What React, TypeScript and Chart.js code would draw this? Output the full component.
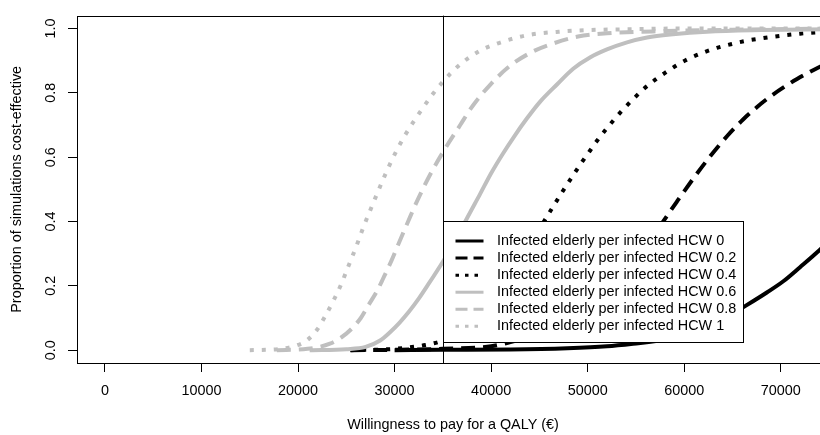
import React, { useEffect, useRef } from "react";
import { Chart, registerables } from "chart.js";

Chart.register(...registerables);

// ---- data ----
const xTicks = [0, 10000, 20000, 30000, 40000, 50000, 60000, 70000];
const yTicks = [0, 0.2, 0.4, 0.6, 0.8, 1.0];
const xTitle = "Willingness to pay for a QALY (€)";
const yTitle = "Proportion of simulations cost-effective";
const seriesLabels = [
  "Infected elderly per infected HCW 0",
  "Infected elderly per infected HCW 0.2",
  "Infected elderly per infected HCW 0.4",
  "Infected elderly per infected HCW 0.6",
  "Infected elderly per infected HCW 0.8",
  "Infected elderly per infected HCW 1",
];
const thresholdWtp = 35000;
const legendAnchorX = 35000;
const legendAnchorY = 0.4;

const wtpHcw0 = [30000, 35000, 42000, 47900, 52000, 54700, 58200, 60000, 62000, 64000, 66100, 68600, 70300, 72000, 73800, 75000];
const probHcw0 = [0, 0.001, 0.002, 0.006, 0.012, 0.02, 0.033, 0.045, 0.065, 0.095, 0.133, 0.18, 0.215, 0.258, 0.305, 0.34];

const wtpHcw02 = [25500, 30000, 35000, 40000, 42000, 45000, 48000, 51000, 54000, 56000, 57700, 59250, 60910, 62360, 64430, 66100, 67550, 68890, 70650, 71690, 73030, 73860, 75000];
const probHcw02 = [0, 0.001, 0.004, 0.012, 0.025, 0.05, 0.095, 0.16, 0.255, 0.325, 0.395, 0.462, 0.532, 0.59, 0.665, 0.717, 0.756, 0.788, 0.824, 0.843, 0.865, 0.878, 0.895];

const wtpHcw04 = [25400, 30000, 33000, 35000, 38000, 40000, 42000, 43800, 45380, 46500, 47650, 48700, 49420, 50240, 51070, 52000, 52830, 53660, 54700, 55730, 56970, 58010, 59250, 60390, 61950, 63400, 64950, 66610, 68160, 70130, 72000, 73760, 75000];
const probHcw04 = [0, 0.004, 0.015, 0.03, 0.08, 0.14, 0.215, 0.31, 0.395, 0.45, 0.505, 0.553, 0.585, 0.62, 0.655, 0.69, 0.72, 0.748, 0.78, 0.81, 0.84, 0.862, 0.886, 0.905, 0.925, 0.94, 0.952, 0.963, 0.97, 0.978, 0.984, 0.988, 0.99];

const wtpHcw06 = [21200, 25000, 27000, 28500, 29500, 30500, 31500, 32500, 33500, 35000, 36300, 37500, 38850, 40000, 41200, 42400, 43700, 45060, 46820, 48500, 50240, 52000, 54080, 56150, 58840, 62360, 68000, 75000];
const probHcw06 = [0, 0.003, 0.01, 0.03, 0.055, 0.085, 0.12, 0.16, 0.205, 0.275, 0.34, 0.41, 0.485, 0.55, 0.61, 0.665, 0.72, 0.772, 0.826, 0.875, 0.91, 0.935, 0.957, 0.972, 0.982, 0.99, 0.995, 0.998];

const wtpHcw08 = [17800, 21000, 23300, 24500, 25500, 26500, 27300, 28200, 28800, 29700, 30400, 31400, 32400, 33700, 35200, 36800, 38100, 39900, 42000, 44300, 46100, 49000, 52000, 58000, 65000, 75000];
const probHcw08 = [0, 0.004, 0.02, 0.04, 0.065, 0.1, 0.14, 0.185, 0.222, 0.28, 0.33, 0.4, 0.468, 0.547, 0.625, 0.7, 0.76, 0.825, 0.885, 0.928, 0.95, 0.975, 0.985, 0.992, 0.996, 1.0];

const wtpHcw1 = [15000, 18000, 19900, 20900, 22000, 22800, 23600, 24400, 25200, 26000, 26800, 27660, 28800, 29830, 31080, 32630, 33980, 35020, 36050, 37100, 38900, 40600, 42700, 44300, 47000, 50000, 55000, 60000, 75000];
const probHcw1 = [0, 0.003, 0.015, 0.03, 0.065, 0.105, 0.15, 0.2, 0.26, 0.32, 0.385, 0.448, 0.53, 0.598, 0.668, 0.74, 0.797, 0.835, 0.868, 0.896, 0.932, 0.953, 0.972, 0.982, 0.99, 0.995, 0.998, 1.0, 1.0];

const seriesWtp = [wtpHcw0, wtpHcw02, wtpHcw04, wtpHcw06, wtpHcw08, wtpHcw1];
const seriesProb = [probHcw0, probHcw02, probHcw04, probHcw06, probHcw08, probHcw1];

// ---- styles ----
const BLACK = "#000000";
const GRAY = "#bfbfbf";
const seriesColors = [BLACK, BLACK, BLACK, GRAY, GRAY, GRAY];
const plotDash = [[], [14, 8], [4, 8], [], [14, 8], [4, 8]];
const legendDash = [[], [12, 6], [3.5, 6], [], [12, 6], [3.5, 6]];
const FONT_FAMILY = "'Liberation Sans', Arial, sans-serif";
const FONT_SIZE = 14.4;

const rPlotPlugin = {
  id: "rPlot",
  afterDatasetsDraw(chart: any) {
    const { ctx, chartArea: a, scales } = chart;
    const x = scales.x;
    const y = scales.y;
    ctx.save();
    ctx.strokeStyle = BLACK;
    ctx.lineWidth = 1;
    ctx.setLineDash([]);
    // box
    ctx.strokeRect(
      Math.round(a.left) + 0.5,
      Math.round(a.top) + 0.5,
      Math.round(a.right - a.left),
      Math.round(a.bottom - a.top)
    );
    // threshold line
    const vx = Math.round(x.getPixelForValue(thresholdWtp)) + 0.5;
    ctx.beginPath();
    ctx.moveTo(vx, a.top);
    ctx.lineTo(vx, a.bottom);
    ctx.stroke();
    // legend
    const lx = Math.round(x.getPixelForValue(legendAnchorX)) + 0.5;
    const ly = Math.round(y.getPixelForValue(legendAnchorY)) + 0.5;
    const w = 300;
    const h = 121;
    ctx.fillStyle = "#ffffff";
    ctx.fillRect(lx, ly, w, h);
    ctx.strokeRect(lx, ly, w, h);
    chart.data.datasets.forEach((ds: any, i: number) => {
      const ry = ly + 19.5 + i * 17.07;
      ctx.beginPath();
      ctx.setLineDash(legendDash[i]);
      ctx.lineWidth = 3;
      ctx.lineCap = "butt";
      ctx.strokeStyle = ds.borderColor;
      ctx.moveTo(lx + 12, ry);
      ctx.lineTo(lx + 40, ry);
      ctx.stroke();
      ctx.setLineDash([]);
      ctx.fillStyle = BLACK;
      ctx.font = `${FONT_SIZE}px ${FONT_FAMILY}`;
      ctx.textBaseline = "middle";
      ctx.textAlign = "left";
      ctx.fillText(ds.label, lx + 53.5, ry);
    });
    ctx.restore();
  },
};

export default function App() {
  const canvasRef = useRef<HTMLCanvasElement | null>(null);

  useEffect(() => {
    if (!canvasRef.current) return;
    const datasets = seriesLabels.map((label, i) => ({
      label,
      data: seriesWtp[i].map((w, k) => ({ x: w, y: seriesProb[i][k] })),
      borderColor: seriesColors[i],
      backgroundColor: seriesColors[i],
      borderWidth: 4,
      borderDash: plotDash[i],
      borderCapStyle: "butt" as const,
      pointRadius: 0,
      cubicInterpolationMode: "monotone" as const,
      fill: false,
      order: 5 - i,
    }));
    const font = { family: FONT_FAMILY, size: FONT_SIZE };
    const chart = new Chart(canvasRef.current, {
      type: "line",
      data: { datasets },
      plugins: [rPlotPlugin],
      options: {
        animation: false,
        responsive: false,
        devicePixelRatio: 1,
        layout: { padding: { top: 8, right: 11, left: 0, bottom: 0 } },
        plugins: { legend: { display: false }, tooltip: { enabled: false } },
        scales: {
          x: {
            type: "linear",
            min: -2900,
            max: 75000,
            afterBuildTicks: (s: any) => {
              s.ticks = xTicks.map((v) => ({ value: v }));
            },
            afterFit: (s: any) => {
              s.height = 72;
            },
            border: { display: false },
            grid: { drawOnChartArea: false, drawTicks: true, tickLength: 9, color: BLACK, lineWidth: 1 },
            ticks: {
              color: BLACK,
              font,
              padding: 10,
              maxRotation: 0,
              autoSkip: false,
              callback: (v: any) => String(v),
            },
            title: { display: true, text: xTitle, color: BLACK, font, padding: { top: 0, bottom: 1.4 } },
          },
          y: {
            type: "linear",
            min: -0.04,
            max: 1.04,
            afterBuildTicks: (s: any) => {
              s.ticks = yTicks.map((v) => ({ value: v }));
            },
            afterFit: (s: any) => {
              s.width = 77;
            },
            border: { display: false },
            grid: { drawOnChartArea: false, drawTicks: true, tickLength: 9, color: BLACK, lineWidth: 1 },
            ticks: {
              color: BLACK,
              font,
              padding: 7,
              minRotation: 90,
              maxRotation: 90,
              crossAlign: "center",
              autoSkip: false,
              callback: (v: any) => Number(v).toFixed(1),
            },
            title: { display: true, text: yTitle, color: BLACK, font, padding: { top: 8.4, bottom: 0 } },
          },
        },
      },
    } as any);
    return () => chart.destroy();
  }, []);

  return (
    <div style={{ position: "absolute", left: 0, top: 0, width: 820, height: 435, overflow: "hidden", background: "#fff" }}>
      <canvas ref={canvasRef} width={840} height={435} style={{ width: 840, height: 435, display: "block" }} />
    </div>
  );
}
